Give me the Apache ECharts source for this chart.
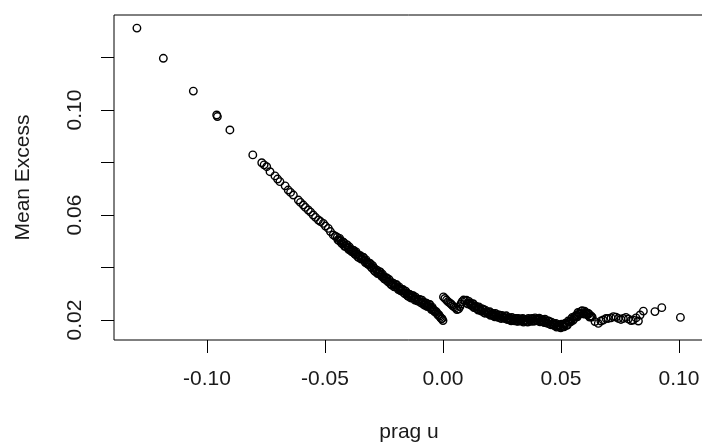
<!DOCTYPE html>
<html>
<head>
<meta charset="utf-8">
<script src="https://cdn.jsdelivr.net/npm/echarts@6/dist/echarts.min.js"></script>
<style>
  html, body { margin: 0; padding: 0; background: #fff; }
  #chart { width: 702px; height: 445px; }
</style>
</head>
<body>
<div id="chart"></div>
<script>
// threshold u / mean excess
// sparse upper tail
const uUpper = [-0.1297, -0.1185, -0.1058, -0.0959, -0.0956, -0.0903, -0.0806,
  -0.0768, -0.0758, -0.0747, -0.0733, -0.0712, -0.0701, -0.0691, -0.0669, -0.0656, -0.0646,
  -0.0634, -0.0613, -0.0604, -0.0592, -0.0583, -0.0571, -0.0561, -0.0550, -0.0540, -0.0528,
  -0.0519, -0.0507, -0.0498, -0.0486, -0.0477, -0.0465, -0.0456];
const meUpper = [0.1312, 0.1197, 0.1072, 0.0981, 0.0975, 0.0924, 0.0829,
  0.0799, 0.0791, 0.0784, 0.0765, 0.0749, 0.0737, 0.0727, 0.0711, 0.0695, 0.0686,
  0.0676, 0.0657, 0.0648, 0.0638, 0.0629, 0.0619, 0.0611, 0.0600, 0.0591, 0.0581,
  0.0575, 0.0568, 0.0558, 0.0549, 0.0537, 0.0524, 0.0519];

// dense band left of zero
const uLeft = [-0.0448, -0.0441, -0.0434, -0.0427, -0.0420, -0.0413, -0.0406, -0.0399, -0.0392, -0.0385,
  -0.0378, -0.0371, -0.0364, -0.0357, -0.0350, -0.0343, -0.0336, -0.0329, -0.0322, -0.0315,
  -0.0308, -0.0301, -0.0294, -0.0287, -0.0280, -0.0273, -0.0266, -0.0259, -0.0252, -0.0245,
  -0.0238, -0.0231, -0.0224, -0.0217, -0.0210, -0.0203, -0.0196, -0.0189, -0.0182, -0.0175,
  -0.0168, -0.0161, -0.0154, -0.0147, -0.0140, -0.0133, -0.0126, -0.0119, -0.0112, -0.0105,
  -0.0098, -0.0091, -0.0084, -0.0077, -0.0070, -0.0063, -0.0056, -0.0049, -0.0042, -0.0035,
  -0.0028, -0.0021, -0.0014, -0.0007, 0.0000];
const meLeft = [0.0515, 0.0502, 0.0503, 0.0490, 0.0495, 0.0481, 0.0486, 0.0468, 0.0470, 0.0460,
  0.0465, 0.0449, 0.0451, 0.0438, 0.0445, 0.0433, 0.0438, 0.0419, 0.0421, 0.0411,
  0.0415, 0.0398, 0.0399, 0.0384, 0.0390, 0.0378, 0.0383, 0.0365, 0.0366, 0.0355,
  0.0360, 0.0344, 0.0346, 0.0333, 0.0339, 0.0328, 0.0334, 0.0316, 0.0319, 0.0310,
  0.0315, 0.0300, 0.0303, 0.0290, 0.0297, 0.0286, 0.0293, 0.0276, 0.0280, 0.0272,
  0.0278, 0.0264, 0.0268, 0.0256, 0.0264, 0.0253, 0.0259, 0.0240, 0.0241, 0.0231,
  0.0231, 0.0219, 0.0215, 0.0205, 0.0198];
const uLeft2 = [-0.0445, -0.0438, -0.0431, -0.0424, -0.0417, -0.0410, -0.0403, -0.0396, -0.0389, -0.0382,
  -0.0375, -0.0368, -0.0361, -0.0354, -0.0347, -0.0340, -0.0333, -0.0326, -0.0319, -0.0312,
  -0.0305, -0.0298, -0.0291, -0.0284, -0.0277, -0.0270, -0.0263, -0.0256, -0.0249, -0.0242,
  -0.0235, -0.0228, -0.0221, -0.0214, -0.0207, -0.0200, -0.0193, -0.0186, -0.0179, -0.0172,
  -0.0165, -0.0158, -0.0151, -0.0144, -0.0137, -0.0130, -0.0123, -0.0116, -0.0109, -0.0102,
  -0.0095, -0.0088, -0.0081, -0.0074, -0.0067, -0.0060, -0.0053, -0.0046, -0.0039, -0.0032,
  -0.0025, -0.0018, -0.0011, -0.0004];
const meLeft2 = [0.0505, 0.0511, 0.0494, 0.0497, 0.0481, 0.0487, 0.0475, 0.0478, 0.0462, 0.0466,
  0.0453, 0.0459, 0.0441, 0.0446, 0.0432, 0.0439, 0.0426, 0.0429, 0.0413, 0.0416,
  0.0402, 0.0407, 0.0388, 0.0392, 0.0377, 0.0384, 0.0372, 0.0374, 0.0357, 0.0361,
  0.0348, 0.0354, 0.0336, 0.0341, 0.0326, 0.0334, 0.0323, 0.0326, 0.0311, 0.0316,
  0.0303, 0.0310, 0.0293, 0.0298, 0.0284, 0.0293, 0.0282, 0.0287, 0.0273, 0.0278,
  0.0267, 0.0275, 0.0259, 0.0265, 0.0251, 0.0259, 0.0247, 0.0249, 0.0236, 0.0234,
  0.0224, 0.0220, 0.0210, 0.0205];

// dense band right of zero
const uRight = [0.0002, 0.0008, 0.0015, 0.0021, 0.0028, 0.0034, 0.0040, 0.0047, 0.0053, 0.0059,
  0.0066, 0.0072, 0.0076, 0.0081, 0.0087, 0.0093,
  0.0100, 0.0107, 0.0114, 0.0121, 0.0128, 0.0135, 0.0142, 0.0149, 0.0156, 0.0163,
  0.0170, 0.0177, 0.0184, 0.0191, 0.0198, 0.0205, 0.0212, 0.0219, 0.0226, 0.0233,
  0.0240, 0.0247, 0.0254, 0.0261, 0.0268, 0.0275, 0.0282, 0.0289, 0.0296, 0.0303,
  0.0310, 0.0317, 0.0324, 0.0331, 0.0338, 0.0345, 0.0352, 0.0359, 0.0366, 0.0373,
  0.0380, 0.0387, 0.0394, 0.0401, 0.0408, 0.0415, 0.0422, 0.0429, 0.0436, 0.0443,
  0.0450, 0.0457, 0.0464, 0.0471, 0.0478, 0.0485, 0.0492, 0.0499, 0.0506, 0.0513,
  0.0520, 0.0527, 0.0534, 0.0541, 0.0548, 0.0555, 0.0562, 0.0569, 0.0576, 0.0583,
  0.0590, 0.0597, 0.0604, 0.0611, 0.0618, 0.0625, 0.0632];
const meRight = [0.0288, 0.0282, 0.0276, 0.0270, 0.0265, 0.0261, 0.0255, 0.0250, 0.0246, 0.0240,
  0.0242, 0.0251, 0.0261, 0.0270, 0.0276, 0.0274,
  0.0275, 0.0261, 0.0264, 0.0255, 0.0262, 0.0248, 0.0251, 0.0238, 0.0244, 0.0234,
  0.0241, 0.0226, 0.0231, 0.0224, 0.0232, 0.0220, 0.0224, 0.0212, 0.0219, 0.0210,
  0.0218, 0.0206, 0.0212, 0.0206, 0.0216, 0.0204, 0.0208, 0.0197, 0.0205, 0.0197,
  0.0206, 0.0195, 0.0201, 0.0196, 0.0206, 0.0195, 0.0201, 0.0192, 0.0202, 0.0195,
  0.0206, 0.0196, 0.0203, 0.0197, 0.0207, 0.0196, 0.0201, 0.0190, 0.0197, 0.0187,
  0.0195, 0.0182, 0.0186, 0.0179, 0.0187, 0.0176, 0.0181, 0.0170, 0.0180, 0.0174,
  0.0188, 0.0181, 0.0193, 0.0193, 0.0210, 0.0205, 0.0216, 0.0212, 0.0227, 0.0224,
  0.0235, 0.0223, 0.0229, 0.0220, 0.0223, 0.0212, 0.0211];
const uRight2 = [0.0103, 0.0110, 0.0117, 0.0124, 0.0131, 0.0138, 0.0145, 0.0152, 0.0159, 0.0166,
  0.0173, 0.0180, 0.0187, 0.0194, 0.0201, 0.0208, 0.0215, 0.0222, 0.0229, 0.0236,
  0.0243, 0.0250, 0.0257, 0.0264, 0.0271, 0.0278, 0.0285, 0.0292, 0.0299, 0.0306,
  0.0313, 0.0320, 0.0327, 0.0334, 0.0341, 0.0348, 0.0355, 0.0362, 0.0369, 0.0376,
  0.0383, 0.0390, 0.0397, 0.0404, 0.0411, 0.0418, 0.0425, 0.0432, 0.0439, 0.0446,
  0.0453, 0.0460, 0.0467, 0.0474, 0.0481, 0.0488, 0.0495, 0.0502, 0.0509, 0.0516,
  0.0523, 0.0530, 0.0537, 0.0544, 0.0551, 0.0558, 0.0565, 0.0572, 0.0579, 0.0586,
  0.0593, 0.0600, 0.0607, 0.0614, 0.0621, 0.0628];
const meRight2 = [0.0263, 0.0271, 0.0259, 0.0261, 0.0247, 0.0253, 0.0242, 0.0250, 0.0237, 0.0242,
  0.0229, 0.0237, 0.0227, 0.0230, 0.0218, 0.0225, 0.0216, 0.0225, 0.0213, 0.0219,
  0.0207, 0.0217, 0.0208, 0.0213, 0.0202, 0.0209, 0.0200, 0.0210, 0.0199, 0.0206,
  0.0196, 0.0206, 0.0198, 0.0203, 0.0192, 0.0201, 0.0194, 0.0206, 0.0197, 0.0205,
  0.0196, 0.0208, 0.0199, 0.0204, 0.0193, 0.0201, 0.0193, 0.0203, 0.0190, 0.0196,
  0.0184, 0.0192, 0.0182, 0.0185, 0.0173, 0.0181, 0.0173, 0.0184, 0.0175, 0.0186,
  0.0180, 0.0196, 0.0193, 0.0204, 0.0199, 0.0213, 0.0212, 0.0229, 0.0224, 0.0234,
  0.0224, 0.0234, 0.0224, 0.0226, 0.0211, 0.0215];

// sparse lower tail
const uTail = [0.0644, 0.0658, 0.0669, 0.0679, 0.0691, 0.0700, 0.0712, 0.0722, 0.0733, 0.0743,
  0.0754, 0.0764, 0.0775, 0.0785, 0.0797, 0.0806, 0.0818, 0.0828, 0.0835, 0.0849,
  0.0898, 0.0927, 0.1006];
const meTail = [0.0194, 0.0187, 0.0196, 0.0200, 0.0206, 0.0206, 0.0208, 0.0213, 0.0211, 0.0206,
  0.0202, 0.0206, 0.0210, 0.0204, 0.0198, 0.0200, 0.0208, 0.0196, 0.0219, 0.0234,
  0.0232, 0.0247, 0.0210];

const xTicks = [-0.10, -0.05, 0.00, 0.05, 0.10];
const yTicks = [0.02, 0.04, 0.06, 0.08, 0.10, 0.12];
const yLabels = [0.02, 0.06, 0.10];

function pairs(us, mes) {
  return us.map((u, i) => [u, mes[i]]);
}

const points = [].concat(
  pairs(uUpper, meUpper),
  pairs(uLeft, meLeft),
  pairs(uLeft2, meLeft2),
  pairs(uRight, meRight),
  pairs(uRight2, meRight2),
  pairs(uTail, meTail)
);

const font = "'Liberation Sans', Arial, sans-serif";
const ink = "#1a1a1a";

const chart = echarts.init(document.getElementById("chart"), null, { renderer: "canvas" });

chart.setOption({
  animation: false,
  backgroundColor: "#fff",
  grid: {
    left: 114,
    top: 15,
    width: 590,
    height: 325,
    show: true,
    borderColor: "#000",
    borderWidth: 1,
    outerBoundsMode: "none",
  },
  xAxis: {
    type: "value",
    min: -0.13941,
    max: 0.11059,
    name: "prag u",
    nameLocation: "middle",
    nameGap: 82,
    nameTextStyle: { fontFamily: font, fontSize: 21, color: ink },
    axisLine: { show: false, onZero: false },
    splitLine: { show: false },
    axisTick: {
      show: true,
      length: 13,
      customValues: xTicks,
      lineStyle: { color: "#000", width: 1 },
    },
    axisLabel: {
      customValues: xTicks,
      formatter: (v) => v.toFixed(2),
      fontFamily: font,
      fontSize: 21,
      color: ink,
      margin: 29,
    },
  },
  yAxis: {
    type: "value",
    min: 0.012381,
    max: 0.13619,
    name: "Mean Excess",
    nameLocation: "middle",
    nameRotate: 90,
    nameGap: 80,
    nameTextStyle: { fontFamily: font, fontSize: 21, color: ink },
    axisLine: { show: false, onZero: false },
    splitLine: { show: false },
    axisTick: {
      show: true,
      length: 13,
      customValues: yTicks,
      lineStyle: { color: "#000", width: 1 },
    },
    axisLabel: {
      customValues: yLabels,
      formatter: (v) => v.toFixed(2),
      rotate: 90,
      fontFamily: font,
      fontSize: 21,
      color: ink,
      margin: 28,
    },
  },
  series: [
    {
      type: "scatter",
      data: points,
      symbol: "circle",
      symbolSize: 7.5,
      silent: true,
      itemStyle: {
        color: "rgba(0,0,0,0)",
        borderColor: "#000",
        borderWidth: 1.4,
        opacity: 1,
      },
      emphasis: { disabled: true },
    },
  ],
});
</script>
</body>
</html>
